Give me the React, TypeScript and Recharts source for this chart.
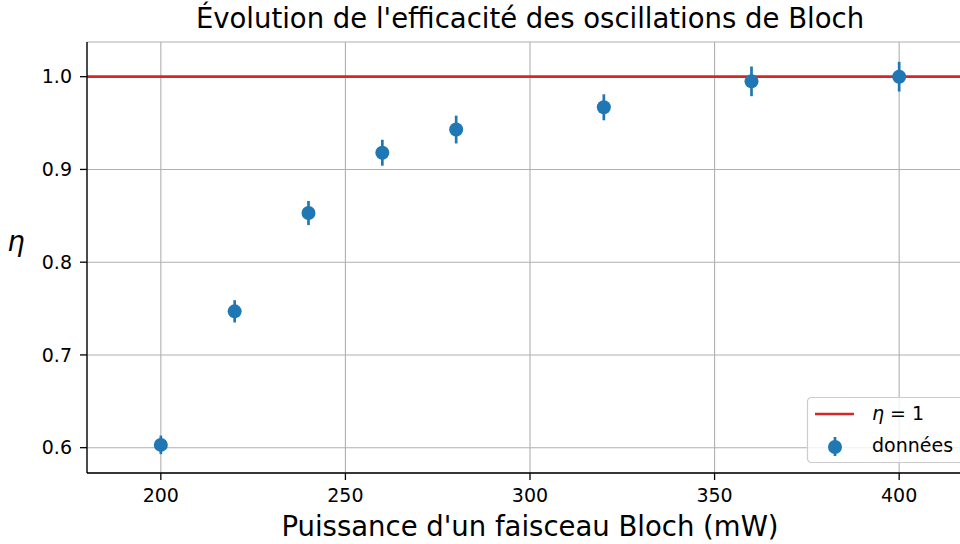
import React from 'react';
import {
  ScatterChart,
  Scatter,
  XAxis,
  YAxis,
  CartesianGrid,
  ReferenceLine,
  ErrorBar,
} from 'recharts';

// Puissance d'un faisceau Bloch (mW)
const powers = [200, 220, 240, 260, 280, 320, 360, 400];
// Efficacité mesurée η
const etaValues = [0.603, 0.747, 0.853, 0.918, 0.943, 0.967, 0.995, 1.0];
// Incertitude sur η
const etaErrors = [0.010, 0.012, 0.013, 0.014, 0.015, 0.014, 0.016, 0.016];

const xTicks = [200, 250, 300, 350, 400];
const yTicks = [0.6, 0.7, 0.8, 0.9, 1.0];
const xDomain: [number, number] = [180, 420];
const yDomain: [number, number] = [0.5727, 1.0374];

const points = powers.map((p, i) => ({ p, eta: etaValues[i], err: etaErrors[i] }));

const BLUE = '#1f77b4';
const RED = '#d62728';
const FONT = "'DejaVu Sans', sans-serif";

const Dot = (props: any) => {
  const { cx, cy } = props;
  if (cx == null || cy == null) return null;
  return <circle cx={cx} cy={cy} r={7} fill={BLUE} />;
};

// Légende dans le coin inférieur droit des axes
const LegendBox = ({ x, y }: { x: number; y: number }) => (
  <g transform={`translate(${x},${y})`}>
    <rect x={0.5} y={0.5} width={165} height={65} rx={4} ry={4} fill="#ffffff" fillOpacity={0.8} stroke="#cccccc" strokeWidth={1.2} />
    <line x1={8} y1={17} x2={47} y2={17} stroke={RED} strokeWidth={2.7} />
    <text x={65} y={22.5} fontSize={19} fontFamily={FONT} fill="#000">
      <tspan fontStyle="italic">η</tspan>
      <tspan> = 1</tspan>
    </text>
    <line x1={28} y1={40} x2={28} y2={59} stroke={BLUE} strokeWidth={2.7} />
    <circle cx={28} cy={50} r={7} fill={BLUE} />
    <text x={65} y={55} fontSize={19} fontFamily={FONT} fill="#000">données</text>
  </g>
);

export default function App() {
  const tickStyle = { fontSize: 19, fill: '#000', fontFamily: FONT };
  return (
    <div
      style={{
        position: 'absolute',
        left: 0,
        top: 0,
        width: 960,
        height: 544,
        overflow: 'hidden',
        background: '#ffffff',
      }}
    >
      <ScatterChart width={980} height={544} margin={{ top: 42, right: 7, bottom: 0, left: 0 }}>
        <CartesianGrid stroke="#b0b0b0" strokeWidth={1.1} />
        <XAxis
          xAxisId={0}
          type="number"
          dataKey="p"
          domain={xDomain}
          ticks={xTicks}
          allowDataOverflow
          height={71}
          tickSize={7}
          tickMargin={9}
          tick={tickStyle}
          axisLine={{ stroke: '#000', strokeWidth: 1.3 }}
          tickLine={{ stroke: '#000', strokeWidth: 1.3 }}
          label={{
            value: "Puissance d'un faisceau Bloch (mW)",
            position: 'insideBottom',
            offset: 8,
            fontSize: 27.5,
            fill: '#000',
            fontFamily: FONT,
          }}
        />
        <XAxis
          xAxisId="top"
          orientation="top"
          type="number"
          domain={xDomain}
          allowDataOverflow
          height={0}
          tick={false}
          tickLine={false}
          axisLine={{ stroke: '#000', strokeWidth: 1.3 }}
        />
        <YAxis
          type="number"
          dataKey="eta"
          domain={yDomain}
          ticks={yTicks}
          allowDataOverflow
          width={87}
          tickSize={7}
          tickMargin={8}
          tick={tickStyle}
          tickFormatter={(v: number) => v.toFixed(1)}
          axisLine={{ stroke: '#000', strokeWidth: 1.3 }}
          tickLine={{ stroke: '#000', strokeWidth: 1.3 }}
        />
        <ReferenceLine y={1} stroke={RED} strokeWidth={2.7} ifOverflow="extendDomain" />
        <Scatter data={points} dataKey="eta" fill={BLUE} shape={<Dot />} isAnimationActive={false}>
          <ErrorBar dataKey="err" direction="y" width={0} stroke={BLUE} strokeWidth={2.7} />
        </Scatter>
      </ScatterChart>
      <svg
        width={960}
        height={544}
        style={{ position: 'absolute', left: 0, top: 0, pointerEvents: 'none' }}
      >
        <text x={530} y={27.5} textAnchor="middle" fontSize={27.5} fontFamily={FONT} fill="#000">
          Évolution de l'efficacité des oscillations de Bloch
        </text>
        <text x={16} y={251} textAnchor="middle" fontSize={27.5} fontStyle="italic" fontFamily={FONT} fill="#000">
          η
        </text>
        <LegendBox x={807} y={397} />
      </svg>
    </div>
  );
}
